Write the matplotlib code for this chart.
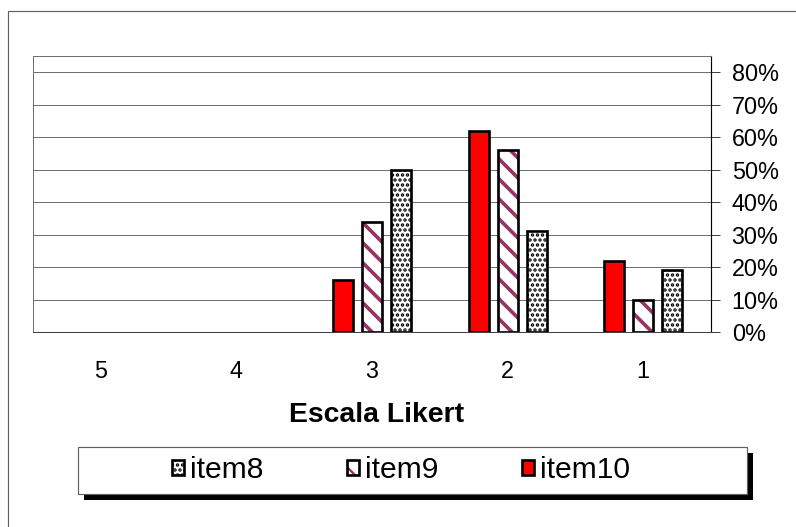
import matplotlib
matplotlib.use("Agg")
import matplotlib.pyplot as plt
from matplotlib.patches import Patch, Rectangle
from matplotlib.legend_handler import HandlerTuple
from matplotlib.ticker import FixedLocator, PercentFormatter
import numpy as np

# Likert scale categories, shown from 5 down to 1
categories = ["5", "4", "3", "2", "1"]
item8 = [0.00, 0.00, 0.50, 0.31, 0.19]
item9 = [0.00, 0.00, 0.34, 0.56, 0.10]
item10 = [0.00, 0.00, 0.16, 0.62, 0.22]
y_ticks = [0.0, 0.1, 0.2, 0.3, 0.4, 0.5, 0.6, 0.7, 0.8]

DPI = 120
W, H = 796, 527
plt.rcParams["font.family"] = ["Liberation Sans", "DejaVu Sans"]

fig = plt.figure(figsize=(W / DPI, H / DPI), dpi=DPI)

STRIPE_LW = 2.2
DOT_LW = 1.4


def fx(px):
    return px / W


def fy(py):
    return 1 - py / H


def hatch_lw(artists, lw):
    for a in artists:
        if hasattr(a, "set_hatch_linewidth"):
            a.set_hatch_linewidth(lw)


# outer chart frame
fig.patches.append(Rectangle((fx(8), fy(540)), fx(800), fy(11) - fy(540),
                             transform=fig.transFigure, fill=False,
                             edgecolor="#606060", linewidth=0.7, zorder=0))

left, right, top, bottom = 33, 711, 56, 332
ax = fig.add_axes([fx(left), fy(bottom), fx(right - left), fy(top) - fy(bottom)])

x = np.arange(len(categories))
width = 0.1475
step = 0.214
edge_lw = 1.6


def lws(vals):
    return [edge_lw if v > 0 else 0 for v in vals]


# item10: solid red
ax.bar(x - step, item10, width, color="#ff0000", edgecolor="black",
       linewidth=lws(item10), zorder=3)

# item9: maroon diagonal stripes
plt.rcParams["hatch.linewidth"] = STRIPE_LW
b9 = ax.bar(x, item9, width, color="white", edgecolor="#993366", hatch="\\\\",
            linewidth=0, zorder=3)
hatch_lw(b9, STRIPE_LW)
ax.bar(x, item9, width, fill=False, edgecolor="black",
       linewidth=lws(item9), zorder=4)

# item8: black dotted pattern
plt.rcParams["hatch.linewidth"] = DOT_LW
b8 = ax.bar(x + step, item8, width, color="white", edgecolor="black", hatch="....",
            linewidth=0, zorder=3)
hatch_lw(b8, DOT_LW)
ax.bar(x + step, item8, width, fill=False, edgecolor="black",
       linewidth=lws(item8), zorder=4)

ax.set_xlim(-0.5, len(categories) - 0.5)
ax.set_ylim(0, 0.85)
ax.set_xticks(x)
ax.set_xticklabels(categories)
ax.yaxis.set_major_locator(FixedLocator(y_ticks))
ax.yaxis.set_major_formatter(PercentFormatter(1.0, decimals=0))
ax.yaxis.tick_right()
ax.tick_params(axis="y", direction="out", length=5.4, width=0.6,
               color="#404040", pad=7, labelsize=14)
ax.tick_params(axis="x", length=0, pad=17, labelsize=14)

ax.grid(axis="y", color="#707070", linewidth=0.6, zorder=1)
ax.set_axisbelow(True)
for side in ["top", "left", "bottom"]:
    ax.spines[side].set_color("#707070")
    ax.spines[side].set_linewidth(0.6)
ax.spines["bottom"].set_color("#404040")
ax.spines["right"].set_color("black")
ax.spines["right"].set_linewidth(0.7)

ax.set_xlabel("Escala Likert", fontsize=17, fontweight="bold")
ax.xaxis.set_label_coords((377 - left) / (right - left), (bottom - 415) / (bottom - top))
ax.xaxis.label.set_va("center")

# legend box with drop shadow
lx0, ly0, lx1, ly1 = 78, 447, 747, 494
fig.patches.append(Rectangle((fx(lx0 + 6), fy(ly1 + 6)), fx(lx1 - lx0), fy(ly0) - fy(ly1),
                             transform=fig.transFigure, facecolor="black",
                             edgecolor="none", zorder=1))
fig.patches.append(Rectangle((fx(lx0), fy(ly1)), fx(lx1 - lx0), fy(ly0) - fy(ly1),
                             transform=fig.transFigure, facecolor="white",
                             edgecolor="#606060", linewidth=0.7, zorder=2))

h8a = Patch(facecolor="white", edgecolor="black", hatch="....", linewidth=0)
h9a = Patch(facecolor="white", edgecolor="#993366", hatch="\\\\", linewidth=0)
hatch_lw([h8a], DOT_LW)
hatch_lw([h9a], STRIPE_LW)
h8 = (h8a, Patch(fill=False, edgecolor="black", linewidth=edge_lw))
h9 = (h9a, Patch(fill=False, edgecolor="black", linewidth=edge_lw))
h10 = Patch(facecolor="#ff0000", edgecolor="black", linewidth=edge_lw)

leg = fig.legend([h8, h9, h10], ["item8", "item9", "item10"],
                 handler_map={tuple: HandlerTuple(ndivide=1)},
                 loc="center", bbox_to_anchor=(fx(401), fy(470)),
                 ncol=3, frameon=False, fontsize=18,
                 handlelength=0.4, handleheight=0.4, handletextpad=0.2,
                 columnspacing=2.8)
leg.set_zorder(5)

fig.savefig("out.png", dpi=DPI)
